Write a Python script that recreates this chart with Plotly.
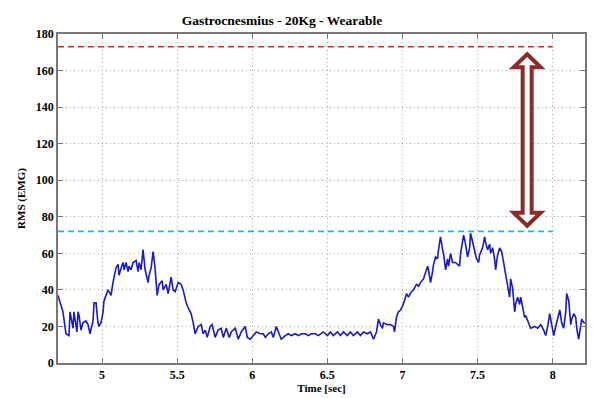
import plotly.graph_objects as go

# ---------------- data ----------------
time_sec = [
    4.707, 4.740, 4.760, 4.780, 4.787, 4.807, 4.813, 4.833, 4.840, 4.847, 4.860, 4.873, 4.893, 4.907,
    4.920, 4.940, 4.947, 4.960, 4.973, 4.980, 4.993, 5.007, 5.013, 5.027, 5.040, 5.047, 5.060, 5.073,
    5.093, 5.107, 5.113, 5.127, 5.140, 5.147, 5.160, 5.173, 5.180, 5.193, 5.207, 5.227, 5.240, 5.247,
    5.260, 5.273, 5.287, 5.307, 5.313, 5.327, 5.340, 5.353, 5.367, 5.380, 5.400, 5.407, 5.427, 5.440,
    5.460, 5.473, 5.487, 5.507, 5.527, 5.540, 5.560, 5.580,
    5.593, 5.607, 5.620, 5.640, 5.660, 5.673, 5.687, 5.700, 5.720, 5.733, 5.753, 5.773, 5.793, 5.807,
    5.827, 5.847, 5.860, 5.887, 5.907, 5.927, 5.953, 5.967, 5.987, 6.007, 6.027, 6.053, 6.073, 6.087,
    6.107, 6.127, 6.140, 6.160, 6.180, 6.193, 6.220, 6.240, 6.260, 6.287, 6.307, 6.327, 6.353, 6.373,
    6.393, 6.420, 6.440,
    6.453, 6.473, 6.500, 6.520, 6.540, 6.567, 6.587, 6.607, 6.633, 6.653, 6.673, 6.700, 6.720, 6.740,
    6.767, 6.787, 6.807, 6.827, 6.840, 6.853, 6.867, 6.873, 6.900, 6.920, 6.940, 6.947, 6.960, 6.973,
    6.987, 7.000, 7.013, 7.027, 7.040, 7.060, 7.073, 7.093, 7.107, 7.120, 7.140, 7.153, 7.167, 7.173,
    7.187, 7.200, 7.207, 7.220, 7.233, 7.240, 7.253, 7.267, 7.273, 7.287, 7.300, 7.307, 7.320, 7.333,
    7.353, 7.380, 7.387, 7.407, 7.420, 7.433, 7.447, 7.453, 7.467, 7.480, 7.493, 7.507, 7.513, 7.533,
    7.547, 7.553, 7.567, 7.580, 7.587, 7.600, 7.613, 7.620, 7.633, 7.647, 7.660, 7.673, 7.687, 7.700,
    7.713, 7.720, 7.733, 7.747, 7.753, 7.767, 7.780, 7.787, 7.800, 7.813, 7.820, 7.840, 7.853, 7.880,
    7.900, 7.920, 7.940, 7.953, 7.967, 7.980, 7.993, 8.007, 8.020, 8.040, 8.047, 8.060, 8.073, 8.087,
    8.093, 8.107, 8.120, 8.127, 8.140, 8.153, 8.160, 8.173, 8.187, 8.193, 8.207, 8.220,
]
rms_emg = [
    37, 28, 16, 15, 28, 19, 28, 17, 28, 26, 18, 22, 23, 21,
    16, 23, 33, 33, 22, 20, 22, 28, 34, 37, 40, 39, 37, 44,
    52, 54, 48, 52, 55, 51, 55, 50, 53, 51, 55, 56, 50, 55,
    51, 62, 51, 44, 48, 52, 61, 52, 37, 43, 45, 40, 43, 38,
    47, 40, 39, 44, 43, 40, 33, 29,
    27, 22, 16, 20, 21, 16, 18, 14, 20, 21, 14, 18, 19, 14,
    19, 14, 17, 19, 13, 17, 20, 14, 13, 15, 17, 16, 16, 14,
    16, 17, 14, 20, 15, 13, 15, 16, 15, 16, 15, 16, 16, 15,
    16, 16, 15,
    16, 17, 15, 17, 15, 17, 15, 17, 15, 17, 15, 17, 15, 17,
    16, 17, 13, 17, 24, 21, 19, 22, 21, 21, 20, 17, 25, 28,
    29, 31, 34, 38, 36, 39, 40, 43, 42, 44, 46, 50, 53, 51,
    44, 50, 54, 58, 57, 62, 69, 62, 60, 51, 57, 53, 60, 55,
    55, 53, 60, 70, 65, 58, 63, 71, 66, 63, 57, 55, 59, 63,
    69, 66, 62, 65, 60, 63, 57, 51, 59, 63, 61, 55, 48, 44,
    36, 46, 41, 28, 32, 36, 32, 36, 30, 25, 26, 22, 19, 20,
    19, 21, 18, 15, 20, 27, 22, 15, 20, 26, 29, 22, 19, 28,
    38, 34, 21, 24, 27, 25, 19, 13, 20, 24, 22, 22,
]

# reference levels (dashed lines) and their end time
level_names = ["max", "wearable"]
level_values = [173, 72]
level_colors = ["#ff1a1a", "#22b4f0"]
level_end_time = 8.0

# arrow between the two levels
arrow_time = 7.83
arrow_from = 74
arrow_to = 170

x_range = [4.707, 8.215]
y_range = [0, 180]
x_ticks = [5, 5.5, 6, 6.5, 7, 7.5, 8]
x_tick_labels = ["5", "5.5", "6", "6.5", "7", "7.5", "8"]
y_ticks = [0, 20, 40, 60, 80, 100, 120, 140, 160, 180]

FONT = "Liberation Serif"
PLOT_H = 398 - 34 - 35

fig = go.Figure()

for name, val, col in zip(level_names, level_values, level_colors):
    fig.add_trace(go.Scatter(
        x=[x_range[0], level_end_time], y=[val, val], mode="lines",
        line=dict(color=col, width=1.6, dash="6px,4px"), name=name,
        showlegend=False, hoverinfo="skip"))

fig.add_trace(go.Scatter(
    x=time_sec, y=rms_emg, mode="lines",
    line=dict(color="#1a1ac8", width=1.6), showlegend=False, name="RMS"))

# hollow double-headed arrow (pixel-sized shape anchored at data centre)
ctr = (arrow_from + arrow_to) / 2.0
ppu_y = PLOT_H / (y_range[1] - y_range[0])
half = (arrow_to - arrow_from) / 2.0 * ppu_y - 2
head_len, head_hw, shaft_hw = 13, 13.5, 4.5
pts = [(0, half), (head_hw, half - head_len), (shaft_hw, half - head_len),
       (shaft_hw, -(half - head_len)), (head_hw, -(half - head_len)), (0, -half),
       (-head_hw, -(half - head_len)), (-shaft_hw, -(half - head_len)),
       (-shaft_hw, half - head_len), (-head_hw, half - head_len)]
path = "M " + " L ".join(f"{px:.1f},{py:.1f}" for px, py in pts) + " Z"
fig.add_shape(type="path", path=path, xsizemode="pixel", ysizemode="pixel",
              xanchor=arrow_time, yanchor=ctr, xref="x", yref="y",
              line=dict(color="#8b2c2c", width=4), fillcolor="white", layer="above")

axis_common = dict(
    showline=True, linecolor="#777777", linewidth=1.5, mirror="ticks",
    ticks="inside", ticklen=5, tickcolor="#777777", tickwidth=1,
    showgrid=True, gridcolor="#a8a8a8", gridwidth=1, griddash="1px,3px",
    zeroline=False, automargin=False,
    tickfont=dict(family=FONT, size=12, color="black", weight="bold"),
)

fig.update_xaxes(range=x_range, tickvals=x_ticks, ticktext=x_tick_labels,
                 title=dict(text="Time [sec]", standoff=3,
                            font=dict(family=FONT, size=11, color="black", weight="bold")),
                 **axis_common)
fig.update_yaxes(range=y_range, tickvals=y_ticks,
                 title=dict(text="RMS (EMG)", standoff=8,
                            font=dict(family=FONT, size=11, color="black", weight="bold")),
                 **axis_common)

fig.update_layout(
    width=593, height=398,
    margin=dict(l=58, r=8, t=34, b=35),
    paper_bgcolor="white", plot_bgcolor="white",
    title=dict(text="Gastrocnesmius - 20Kg - Wearable", x=282 / 593, xanchor="center",
               y=1 - 20 / 398, yanchor="middle",
               font=dict(family=FONT, size=13.5, color="black", weight="bold")),
)

fig.write_html("out.html", config={"displayModeBar": False},
               post_script="document.body.style.margin='0';document.body.style.overflow='hidden';")
